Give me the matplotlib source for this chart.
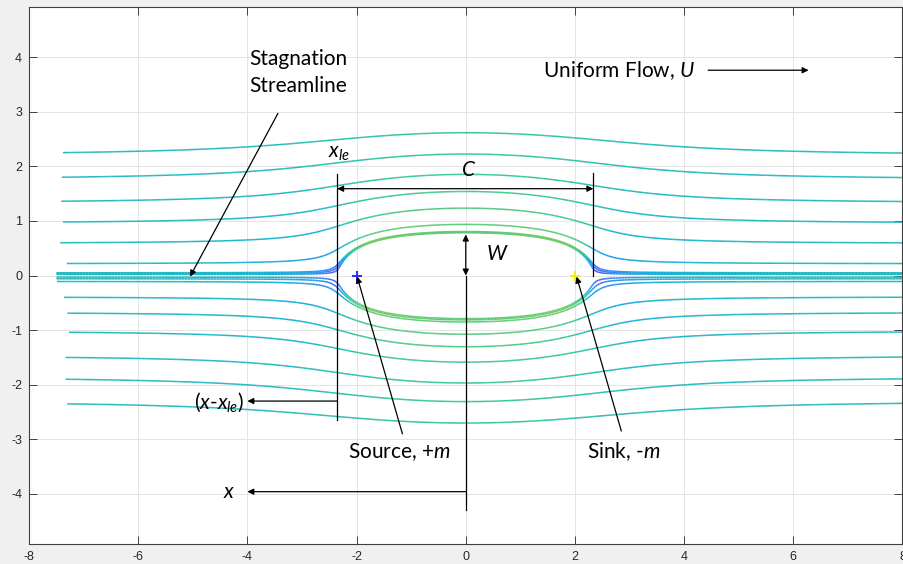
import numpy as np
import matplotlib
matplotlib.use('Agg')
import matplotlib.pyplot as plt
from matplotlib.colors import LinearSegmentedColormap, Normalize

plt.rcParams['mathtext.fontset'] = 'custom'
plt.rcParams['mathtext.rm'] = 'Lato'
plt.rcParams['mathtext.it'] = 'Lato:italic'
plt.rcParams['axes.unicode_minus'] = False

###############################################################################
# Flow parameters (Rankine oval: uniform flow + source/sink pair)
###############################################################################
U = 1.0          # uniform flow speed
m = 2.0          # source strength
x_source = -2.0  # source, +m
x_sink = 2.0     # sink, -m

# streamline seed points (left end of each line)
seed_x = [-7.43, -7.45, -7.46, -7.43, -7.48, -7.36,
          -7.55, -7.55, -7.55, -7.55, -7.55, -7.54,
          -7.41, -7.35, -7.32, -7.38, -7.38, -7.35]
seed_y = [2.25, 1.80, 1.36, 0.98, 0.60, 0.22,
          0.05, 0.035, 0.02, -0.03, -0.06, -0.11,
          -0.40, -0.69, -1.04, -1.50, -1.90, -2.35]

x_le = -2.355    # leading edge marker
x_te = 2.337     # trailing edge marker
W = 0.75         # half thickness arrow

# parula-like colormap
parula = LinearSegmentedColormap.from_list('parula', [
    (0.000, (0.2422, 0.1504, 0.6603)),
    (0.125, (0.2810, 0.3228, 0.9579)),
    (0.250, (0.1786, 0.5289, 0.9682)),
    (0.375, (0.0689, 0.6948, 0.8394)),
    (0.500, (0.2161, 0.7843, 0.5923)),
    (0.625, (0.5470, 0.8040, 0.3148)),
    (0.750, (0.8185, 0.7327, 0.1834)),
    (0.875, (0.9955, 0.7861, 0.1991)),
    (1.000, (0.9769, 0.9839, 0.0805))])

###############################################################################
# figure / axes
###############################################################################
fig = plt.figure(figsize=(9.04, 5.64), dpi=100, facecolor='#f0f0f0')
ax = fig.add_axes([29/904, 20/564, 873.5/904, 537/564])
half_h = 537/873.5*16/2
ax.set_xlim(-8, 8)
ax.set_ylim(-half_h, half_h)

# velocity field on a grid
xg = np.linspace(-8, 8, 400)
yg = np.linspace(-half_h, half_h, 246)
X, Y = np.meshgrid(xg, yg)
r1 = (X - x_source)**2 + Y**2
r2 = (X - x_sink)**2 + Y**2
k = m/(2*np.pi)
u = U + k*((X - x_source)/r1 - (X - x_sink)/r2)
v = k*(Y/r1 - Y/r2)
speed = np.sqrt(u**2 + v**2)

strm = ax.streamplot(X, Y, u, v, start_points=np.column_stack([seed_x, seed_y]),
                     integration_direction='forward', broken_streamlines=False,
                     density=10, maxlength=20, color=speed, cmap=parula,
                     norm=Normalize(0, 2.3), linewidth=1.1, arrowsize=0.01)
for p in list(ax.patches):
    p.remove()

ax.plot(x_source, 0, '+', color='#2a2aff', ms=7, mew=1.4)
ax.plot(x_sink, 0, '+', color='#f2ef10', ms=7, mew=1.4)

# axes styling (MATLAB look)
ax.set_xticks(np.arange(-8, 9, 2))
ax.set_yticks(np.arange(-4, 5, 1))
ax.grid(True, color='#e4e4e4', lw=0.7)
ax.set_axisbelow(True)
ax.tick_params(direction='in', length=5.5, width=0.7, top=True, right=True,
               labelsize=9, colors='#404040', labelcolor='#262626')
ax.tick_params(axis='x', pad=5)
ax.tick_params(axis='y', pad=5)
for lab in ax.get_xticklabels() + ax.get_yticklabels():
    lab.set_family('Liberation Sans')
for s in ax.spines.values():
    s.set_color('#404040')
    s.set_linewidth(0.8)

###############################################################################
# annotations
###############################################################################
fnt = dict(family='Lato', size=15, color='k')
arr = dict(arrowstyle='-|>', color='k', lw=0.9, mutation_scale=9,
           shrinkA=0, shrinkB=0)
arr2 = dict(arr, arrowstyle='<|-|>')

ax.text(-3.07, 3.72, 'Stagnation\nStreamline', ha='center', va='center',
        linespacing=1.45, **fnt)
ax.annotate('', xy=(-5.05, -0.02), xytext=(-3.44, 2.97), arrowprops=arr)

ax.text(1.42, 3.76, 'Uniform Flow, $U$', ha='left', va='center', **fnt)
ax.annotate('', xy=(6.28, 3.76), xytext=(4.44, 3.76), arrowprops=arr)

ax.text(-2.33, 2.24, '$x_{le}$', ha='center', va='center', **fnt)
ax.plot([x_le, x_le], [1.86, -2.65], color='k', lw=0.9)
ax.plot([x_te, x_te], [1.88, 0.0], color='k', lw=0.9)
ax.annotate('', xy=(x_te, 1.59), xytext=(x_le, 1.59), arrowprops=arr2)
ax.text(0.05, 1.93, '$C$', ha='center', va='center', **fnt)

ax.annotate('', xy=(0, W), xytext=(0, 0), arrowprops=arr2)
ax.text(0.58, 0.40, '$W$', ha='center', va='center', **fnt)

ax.plot([0, 0], [0, -4.29], color='k', lw=0.9)
ax.annotate('', xy=(-4.0, -3.96), xytext=(0, -3.96), arrowprops=arr)
ax.text(-4.33, -3.96, '$x$', ha='center', va='center', **fnt)

ax.annotate('', xy=(-4.0, -2.30), xytext=(x_le, -2.30), arrowprops=arr)
ax.text(-4.06, -2.32, '$(x$-$x_{le})$', ha='right', va='center', **fnt)

ax.annotate('', xy=(-1.99, -0.02), xytext=(-1.16, -2.90), arrowprops=arr)
ax.text(-1.22, -3.23, 'Source, $+m$', ha='center', va='center', **fnt)

ax.annotate('', xy=(2.03, -0.02), xytext=(2.85, -2.85), arrowprops=arr)
ax.text(2.905, -3.23, 'Sink, -$m$', ha='center', va='center', **fnt)

fig.savefig('out.png', dpi=100, facecolor=fig.get_facecolor())
